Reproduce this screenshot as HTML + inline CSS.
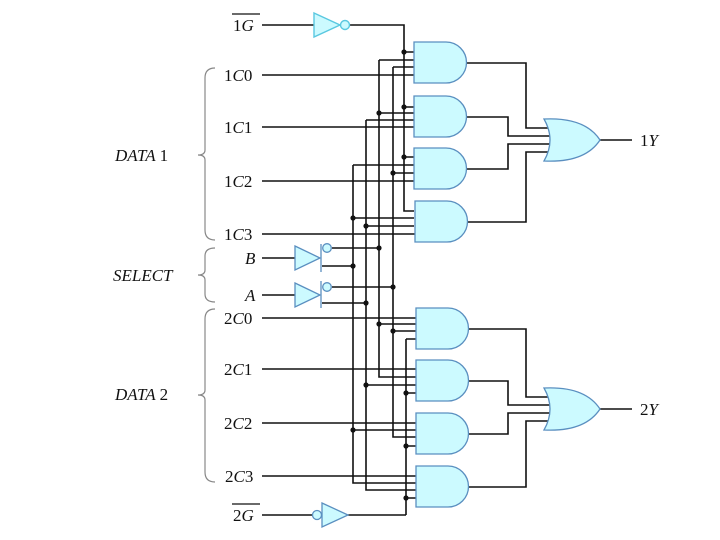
<!DOCTYPE html>
<html><head><style>
html,body{margin:0;padding:0;background:#fff;}
svg{display:block;}
text{font-family:"Liberation Serif","Times New Roman",Times,serif;font-size:17px;fill:#111;}
</style></head><body>
<svg width="720" height="540" viewBox="0 0 720 540" xmlns="http://www.w3.org/2000/svg">
<defs>
<path id="and" d="M0,0 H32 A20.5,20.5 0 0 1 32,41 H0 Z" fill="#ccfaff" stroke="#5a8fc0" stroke-width="1.3"/>
</defs>
<g fill="none" stroke="#888" stroke-width="1.2">
<path d="M215,68 Q205,68 205,78 V150 Q205,155 198,155 Q205,155 205,160 V230 Q205,240 215,240"/>
<path d="M215,248 Q205,248 205,256 V270 Q205,275 198,275 Q205,275 205,280 V294 Q205,302 215,302"/>
<path d="M215,309 Q205,309 205,319 V390 Q205,395 198,395 Q205,395 205,400 V472 Q205,482 215,482"/>
</g>
<text x="115" y="161" font-style="italic">DATA <tspan font-style="normal">1</tspan></text>
<text x="113" y="281" font-style="italic">SELECT</text>
<text x="115" y="400" font-style="italic">DATA <tspan font-style="normal">2</tspan></text>
<text x="233" y="31">1<tspan font-style="italic">G</tspan></text>
<line x1="232" y1="14" x2="260" y2="14" stroke="#111" stroke-width="1.2"/>
<text x="224" y="81">1<tspan font-style="italic">C</tspan>0</text>
<text x="224" y="133">1<tspan font-style="italic">C</tspan>1</text>
<text x="224" y="187">1<tspan font-style="italic">C</tspan>2</text>
<text x="224" y="240">1<tspan font-style="italic">C</tspan>3</text>
<text x="245" y="264" font-style="italic">B</text>
<text x="245" y="301" font-style="italic">A</text>
<text x="224" y="324">2<tspan font-style="italic">C</tspan>0</text>
<text x="224" y="375">2<tspan font-style="italic">C</tspan>1</text>
<text x="224" y="429">2<tspan font-style="italic">C</tspan>2</text>
<text x="225" y="482">2<tspan font-style="italic">C</tspan>3</text>
<text x="233" y="521">2<tspan font-style="italic">G</tspan></text>
<line x1="232" y1="504" x2="260" y2="504" stroke="#111" stroke-width="1.2"/>
<text x="640" y="146">1<tspan font-style="italic">Y</tspan></text>
<text x="640" y="415">2<tspan font-style="italic">Y</tspan></text>
<g fill="none" stroke="#111" stroke-width="1.6">
<path d="M262,25 H314 M350,25 H404 V211 H414"/>
<path d="M404,52 H414 M404,107 H414 M404,157 H414"/>
<path d="M379,60 V377 H416 M393,67 V437 H416 M353,165 V483 H416 M366,120 V490 H416"/>
<path d="M379,60 H414 M393,67 H414 M262,75 H414"/>
<path d="M366,120 H414 M379,113 H414 M262,127 H414"/>
<path d="M353,165 H414 M393,173 H414 M262,181 H414"/>
<path d="M353,218 H414 M366,226 H414 M262,234 H415"/>
<path d="M262,258 H295 M332,248 H379 M322,266 H353"/>
<path d="M262,295 H295 M332,287 H393 M322,303 H366"/>
<path d="M262,318 H416 M379,324 H416 M393,331 H416 M406,339 H416 M406,339 V515"/>
<path d="M262,369 H416 M366,385 H416 M406,393 H416"/>
<path d="M262,423 H416 M353,430 H416 M406,446 H416"/>
<path d="M262,476 H416 M406,498 H416"/>
<path d="M262,515 H312 M348,515 H406"/>
<path d="M467,63 H526 V128 H548 M467,117 H508 V136 H550 M467,169 H508 V144 H550 M467,222 H526 V152 H548"/>
<path d="M469,329 H526 V397 H548 M469,381 H508 V405 H550 M469,434 H508 V413 H550 M469,487 H526 V421 H548"/>
<path d="M600,140 H632 M600,409 H632"/>
</g>
<g fill="#111">
<circle cx="404" cy="52" r="2.6"/><circle cx="404" cy="107" r="2.6"/><circle cx="404" cy="157" r="2.6"/>
<circle cx="379" cy="113" r="2.6"/><circle cx="393" cy="173" r="2.6"/>
<circle cx="353" cy="218" r="2.6"/><circle cx="366" cy="226" r="2.6"/>
<circle cx="379" cy="248" r="2.6"/><circle cx="353" cy="266" r="2.6"/>
<circle cx="393" cy="287" r="2.6"/><circle cx="366" cy="303" r="2.6"/>
<circle cx="379" cy="324" r="2.6"/><circle cx="393" cy="331" r="2.6"/>
<circle cx="366" cy="385" r="2.6"/><circle cx="406" cy="393" r="2.6"/>
<circle cx="353" cy="430" r="2.6"/><circle cx="406" cy="446" r="2.6"/>
<circle cx="406" cy="498" r="2.6"/>
</g>
<g fill="#ccfaff" stroke="#5ac8e0" stroke-width="1.4">
<path d="M314,13 L340,25 L314,37 Z"/><circle cx="345" cy="25" r="4.5"/>
</g>
<g fill="#ccfaff" stroke="#5a8fc0" stroke-width="1.3">
<path d="M295,246 L320,258 L295,270 Z"/><line x1="321" y1="244" x2="321" y2="272"/><circle cx="327" cy="248" r="4.3"/>
<path d="M295,283 L320,295 L295,307 Z"/><line x1="321" y1="281" x2="321" y2="308"/><circle cx="327" cy="287" r="4.3"/>
<path d="M322,503 L348,515 L322,527 Z"/><circle cx="317" cy="515" r="4.5"/>
</g>
<use href="#and" x="414" y="42"/>
<use href="#and" x="414" y="96"/>
<use href="#and" x="414" y="148"/>
<use href="#and" x="415" y="201"/>
<use href="#and" x="416" y="308"/>
<use href="#and" x="416" y="360"/>
<use href="#and" x="416" y="413"/>
<use href="#and" x="416" y="466"/>
<g fill="#ccfaff" stroke="#5a8fc0" stroke-width="1.3">
<path d="M544,119 Q585,117 600,140 Q585,163 544,161 Q556,140 544,119 Z"/>
<path d="M544,388 Q585,386 600,409 Q585,432 544,430 Q556,409 544,388 Z"/>
</g>
</svg>
</body></html>
